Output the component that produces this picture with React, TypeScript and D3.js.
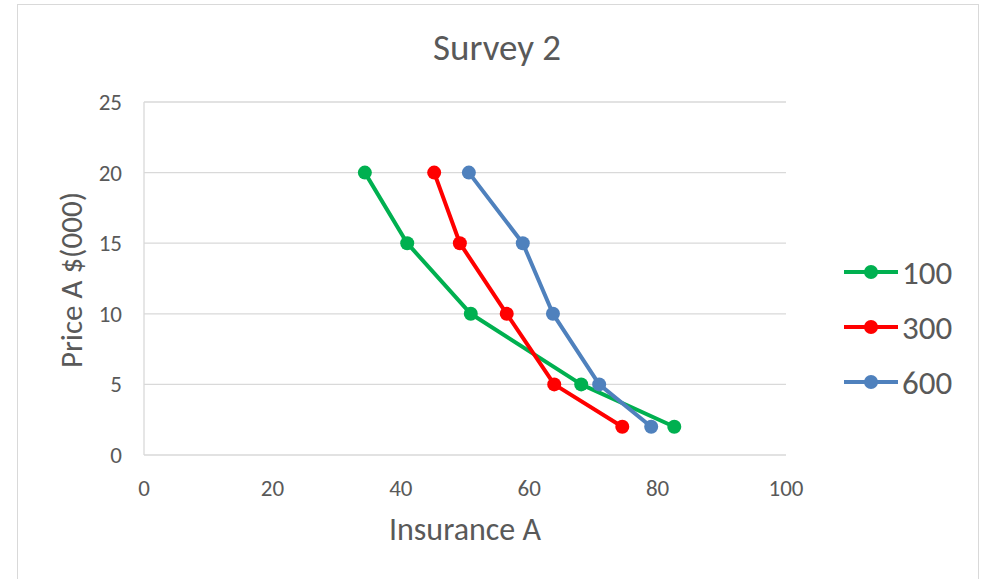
import React, { useEffect, useRef } from "react";
import * as d3 from "d3";

// survey values
const priceLevels = [20, 15, 10, 5, 2];
const insurance100 = [34.4, 41.0, 50.9, 68.1, 82.6];
const insurance300 = [45.2, 49.2, 56.5, 63.9, 74.5];
const insurance600 = [50.6, 59.0, 63.7, 70.9, 79.0];
const seriesNames = ["100", "300", "600"];
const xTicks = [0, 20, 40, 60, 80, 100];
const yTicks = [0, 5, 10, 15, 20, 25];

const colors = ["#00B050", "#FF0000", "#4F81BD"];
const font = "Carlito, Calibri, Lato, 'Open Sans', sans-serif";
const textColor = "#595959";

const W = 987;
const H = 579;
const margin = { top: 102, right: 201, bottom: 124, left: 144 };

const App: React.FC = () => {
  const svgRef = useRef<SVGSVGElement>(null);

  useEffect(() => {
    if (svgRef.current === null) return;
    const svg = d3.select(svgRef.current);
    svg.selectAll("*").remove();

    const innerW = W - margin.left - margin.right;
    const innerH = H - margin.top - margin.bottom;

    const x = d3.scaleLinear().domain([0, 100]).range([0, innerW]);
    const y = d3.scaleLinear().domain([0, 25]).range([innerH, 0]);

    // chart frame
    svg
      .append("rect")
      .attr("x", 17.5)
      .attr("y", 4.5)
      .attr("width", 961)
      .attr("height", 600)
      .attr("fill", "#fff")
      .attr("stroke", "#d9d9d9");

    svg
      .append("text")
      .attr("x", 497)
      .attr("y", 60)
      .attr("text-anchor", "middle")
      .attr("font-family", font)
      .attr("font-size", 37)
      .attr("fill", textColor)
      .text("Survey 2");

    const g = svg
      .append("g")
      .attr("transform", `translate(${margin.left}, ${margin.top})`);

    // horizontal gridlines
    g.selectAll(".grid")
      .data(yTicks)
      .enter()
      .append("line")
      .attr("x1", 0)
      .attr("x2", innerW)
      .attr("y1", d => y(d))
      .attr("y2", d => y(d))
      .attr("stroke", "#d9d9d9")
      .attr("stroke-width", 1.3);

    // y axis line
    g.append("line")
      .attr("x1", 0)
      .attr("x2", 0)
      .attr("y1", 0)
      .attr("y2", innerH)
      .attr("stroke", "#d9d9d9")
      .attr("stroke-width", 1.3);

    g.selectAll(".ytick")
      .data(yTicks)
      .enter()
      .append("text")
      .attr("x", -22)
      .attr("y", d => y(d))
      .attr("dy", "0.35em")
      .attr("text-anchor", "end")
      .attr("font-family", font)
      .attr("font-size", 23)
      .attr("fill", textColor)
      .text(d => d);

    g.selectAll(".xtick")
      .data(xTicks)
      .enter()
      .append("text")
      .attr("x", d => x(d))
      .attr("y", innerH + 41)
      .attr("text-anchor", "middle")
      .attr("font-family", font)
      .attr("font-size", 23)
      .attr("fill", textColor)
      .text(d => d);

    svg
      .append("text")
      .attr("x", 465)
      .attr("y", 540)
      .attr("text-anchor", "middle")
      .attr("font-family", font)
      .attr("font-size", 32)
      .attr("fill", textColor)
      .text("Insurance A");

    svg
      .append("text")
      .attr("transform", "translate(82, 280) rotate(-90)")
      .attr("text-anchor", "middle")
      .attr("font-family", font)
      .attr("font-size", 31)
      .attr("fill", textColor)
      .text("Price A $(000)");

    const series = [insurance100, insurance300, insurance600];
    const line = d3
      .line<number>()
      .x(d => x(d))
      .y((_, i) => y(priceLevels[i]));

    series.forEach((vals, si) => {
      g.append("path")
        .datum(vals)
        .attr("d", line)
        .attr("fill", "none")
        .attr("stroke", colors[si])
        .attr("stroke-width", 4)
        .attr("stroke-linejoin", "round");

      g.selectAll(`.dot${si}`)
        .data(vals)
        .enter()
        .append("circle")
        .attr("cx", d => x(d))
        .attr("cy", (_, i) => y(priceLevels[i]))
        .attr("r", 7)
        .attr("fill", colors[si]);
    });

    // legend
    const legend = svg
      .selectAll(".legend")
      .data(seriesNames)
      .enter()
      .append("g")
      .attr("transform", (_, i) => `translate(844, ${272 + i * 55})`);

    legend
      .append("line")
      .attr("x1", 0)
      .attr("x2", 54)
      .attr("stroke", (_, i) => colors[i])
      .attr("stroke-width", 4);

    legend
      .append("circle")
      .attr("cx", 27)
      .attr("r", 7)
      .attr("fill", (_, i) => colors[i]);

    legend
      .append("text")
      .attr("x", 58)
      .attr("dy", "0.36em")
      .attr("font-family", font)
      .attr("font-size", 33)
      .attr("fill", textColor)
      .text(d => d);
  }, []);

  return (
    <div style={{ position: "fixed", left: 0, top: 0 }}>
      <svg ref={svgRef} width={W} height={H} />
    </div>
  );
};

export default App;
